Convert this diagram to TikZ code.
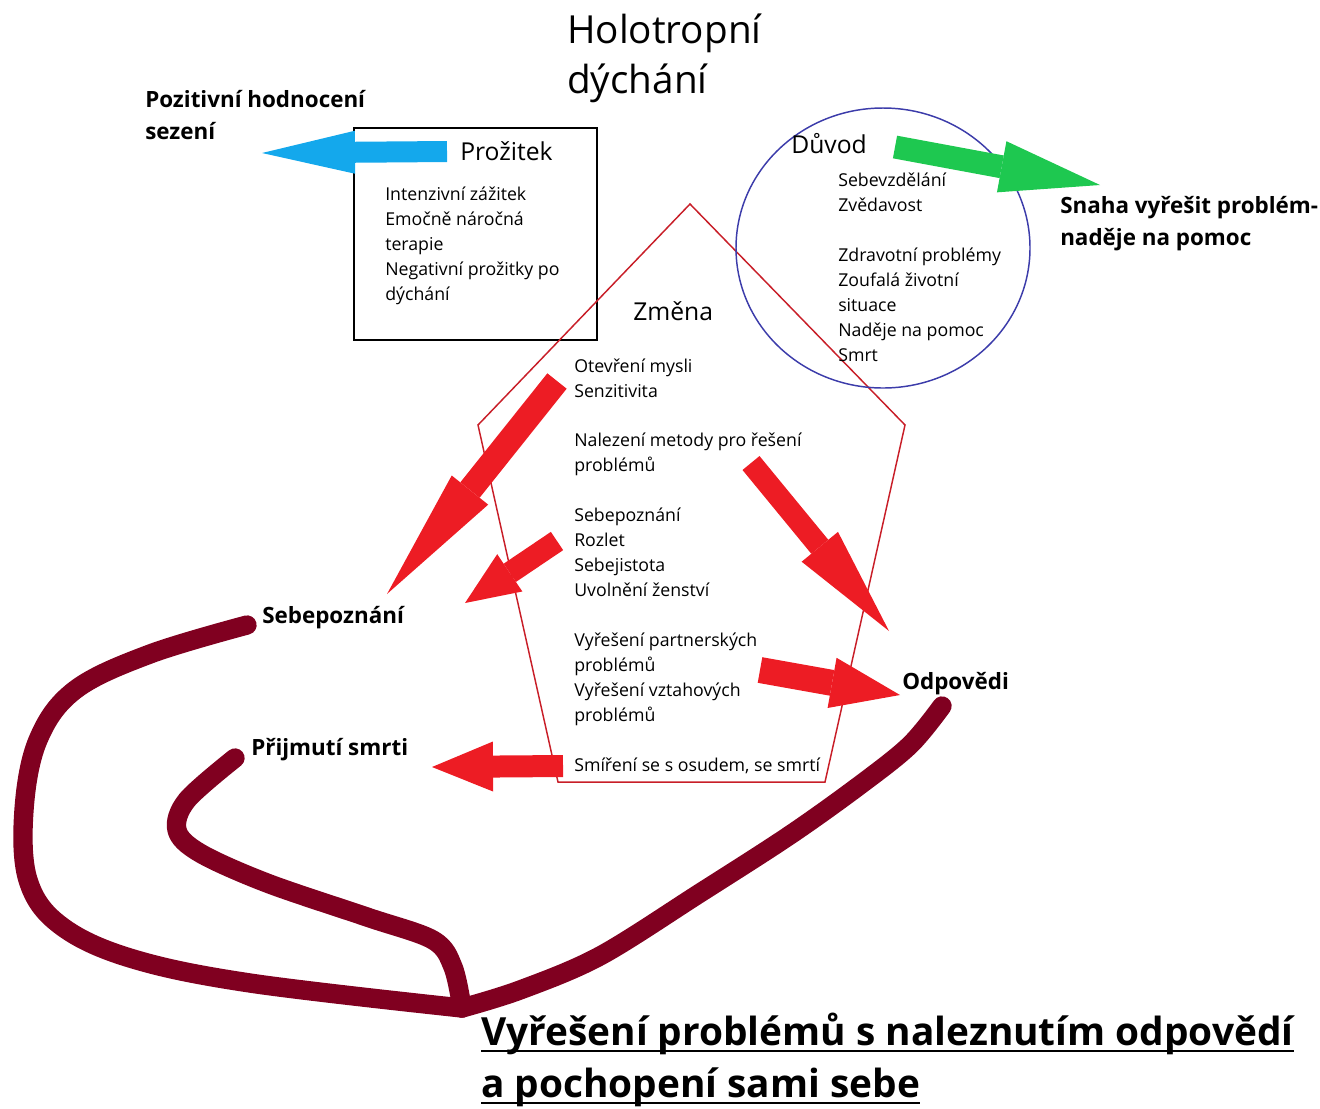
\documentclass[tikz,border=0pt]{standalone}
\usepackage{fontspec}
\setmainfont{Open Sans}
\usetikzlibrary{arrows.meta,positioning}

\definecolor{skyblue}{RGB}{20,168,236}
\definecolor{brightgreen}{RGB}{30,200,80}
\definecolor{arrowred}{RGB}{237,28,36}
\definecolor{edgered}{RGB}{200,30,40}
\definecolor{ringblue}{RGB}{60,60,170}
\definecolor{deepred}{RGB}{128,0,32}

\begin{document}
\begin{tikzpicture}[
    x=0.75pt, y=-0.75pt,
    body/.style={
        anchor=base west, inner sep=0pt, align=left,
        font=\fontsize{13.3}{18.7}\selectfont
    },
    heading/.style={
        anchor=base west, inner sep=0pt,
        font=\fontsize{18.5}{22}\selectfont
    },
    result/.style={
        anchor=base west, inner sep=0pt, align=left,
        font=\fontsize{16.8}{23.5}\selectfont\bfseries
    },
    fat arrow/.style n args={4}{
        draw=#1, line width=#2,
        -{Triangle[length=#3, width=#4, line width=0pt]}
    },
    band/.style={
        draw=deepred, line width=14.5pt,
        line cap=round, line join=round
    }
]

% Page frame
\useasboundingbox (0,0) rectangle (1320,1108);

% Title (multi-line nodes sit on their last baseline)
\node[anchor=base west, inner sep=0pt, align=left,
      font=\fontsize{29}{37.5}\selectfont] (title) at (567,93) {Holotropní\\dýchání};

% Outlines: box, pentagon, circle
\node[draw, line width=1.5pt, minimum width=182.25pt, minimum height=159pt,
      inner sep=0pt] (prozbox) at (475.5,234) {};
\draw[edgered, line width=1.1pt] (690,204) -- (905,425) -- (825,782)
    -- (558,782) -- (478,425) -- cycle;
\draw[ringblue, line width=1.1pt] (883,248) ellipse [x radius=147, y radius=140];

% Texts inside the shapes
\node[heading] (prozitek) at (460,160) {Prožitek};
\node[body] (boxtext) at (385,300) {Intenzivní zážitek\\Emočně náročná\\terapie\\Negativní prožitky po\\dýchání};

\node[heading] (duvod) at (791,153) {Důvod};
\node[body] (duvodtext) at (838,361) {Sebevzdělání\\Zvědavost\\[18.7pt]Zdravotní problémy\\Zoufalá životní\\situace\\Naděje na pomoc\\Smrt};

\node[heading] (zmena) at (633,320) {Změna};
\node[body] (zmenatext) at (574,771) {Otevření mysli\\Senzitivita\\[18.7pt]%
    Nalezení metody pro řešení\\problémů\\[18.7pt]%
    Sebepoznání\\Rozlet\\Sebejistota\\Uvolnění ženství\\[18.7pt]%
    Vyřešení partnerských\\problémů\\Vyřešení vztahových\\problémů\\[18.7pt]%
    Smíření se s osudem, se smrtí};

% Outcomes
\node[result] (posit) at (145,139) {Pozitivní hodnocení\\sezení};
\node[result] (snaha) at (1060,245) {Snaha vyřešit problém-\\naděje na pomoc};
\node[result] (sebep) at (262,623) {Sebepoznání};
\node[result] (odpov) at (902,689) {Odpovědi};
\node[result] (prijmuti) at (251,755) {Přijmutí smrti};

\node[anchor=base west, inner sep=0pt,
      font=\fontsize{29.1}{36}\selectfont\bfseries] (vyreseni) at (481,1045) {Vyřešení problémů s naleznutím odpovědí};
\node[anchor=base west, inner sep=0pt,
      font=\fontsize{29.1}{36}\selectfont\bfseries] (pochopeni) at (481,1097) {a pochopení sami sebe};
\draw[line width=2.2pt] ([yshift=-4.5pt]vyreseni.base west) -- ([yshift=-4.5pt]vyreseni.base east);
\draw[line width=2.2pt] ([yshift=-4.5pt]pochopeni.base west) -- ([yshift=-4.5pt]pochopeni.base east);

% Arrow end points
\coordinate (blueS) at (447,151.5);  \coordinate (blueE) at (262,153);
\coordinate (greenS) at (895,147);   \coordinate (greenE) at (1100,185);
\coordinate (redAS) at (557,381);    \coordinate (redAE) at (387,594);
\coordinate (redBS) at (557,541);    \coordinate (redBE) at (465,603);
\coordinate (redCS) at (751,463);    \coordinate (redCE) at (889,631);
\coordinate (redDS) at (760,670);    \coordinate (redDE) at (900,695);
\coordinate (redES) at (563,766);    \coordinate (redEE) at (432,767);

% Block arrows
\draw[fat arrow={skyblue}{15.75pt}{69.75pt}{32.25pt}] (blueS) -- (blueE);
\draw[fat arrow={brightgreen}{17.25pt}{75pt}{39pt}] (greenS) -- (greenE);
\draw[fat arrow={arrowred}{18.5pt}{99.75pt}{35pt}] (redAS) -- (redAE);
\draw[fat arrow={arrowred}{16.5pt}{40.5pt}{33.75pt}] (redBS) -- (redBE);
\draw[fat arrow={arrowred}{16.5pt}{81.75pt}{35.25pt}] (redCS) -- (redCE);
\draw[fat arrow={arrowred}{19.5pt}{51.75pt}{38.25pt}] (redDS) -- (redDE);
\draw[fat arrow={arrowred}{16.5pt}{45.75pt}{37.5pt}] (redES) -- (redEE);

% Brush strokes to the conclusion
\coordinate (bandA) at (247,625);
\coordinate (bandB) at (235,758);
\coordinate (bandC) at (942,706);
\coordinate (join) at (462,1008);
\draw[band] plot[smooth, tension=0.6] coordinates {(bandA) (150,654)
    (75,690) (38,740) (24,810) (28,880) (60,925) (130,958) (250,983) (join)};
\draw[band] plot[smooth, tension=0.55] coordinates {(bandB) (187,800) (177,830)
    (200,853) (267,883) (367,917) (433,940) (453,967) (join)};
\draw[band] plot[smooth, tension=0.55] coordinates {(join) (520,990) (600,956)
    (700,893) (790,835) (860,785) (910,745) (bandC)};

\end{tikzpicture}
\end{document}
